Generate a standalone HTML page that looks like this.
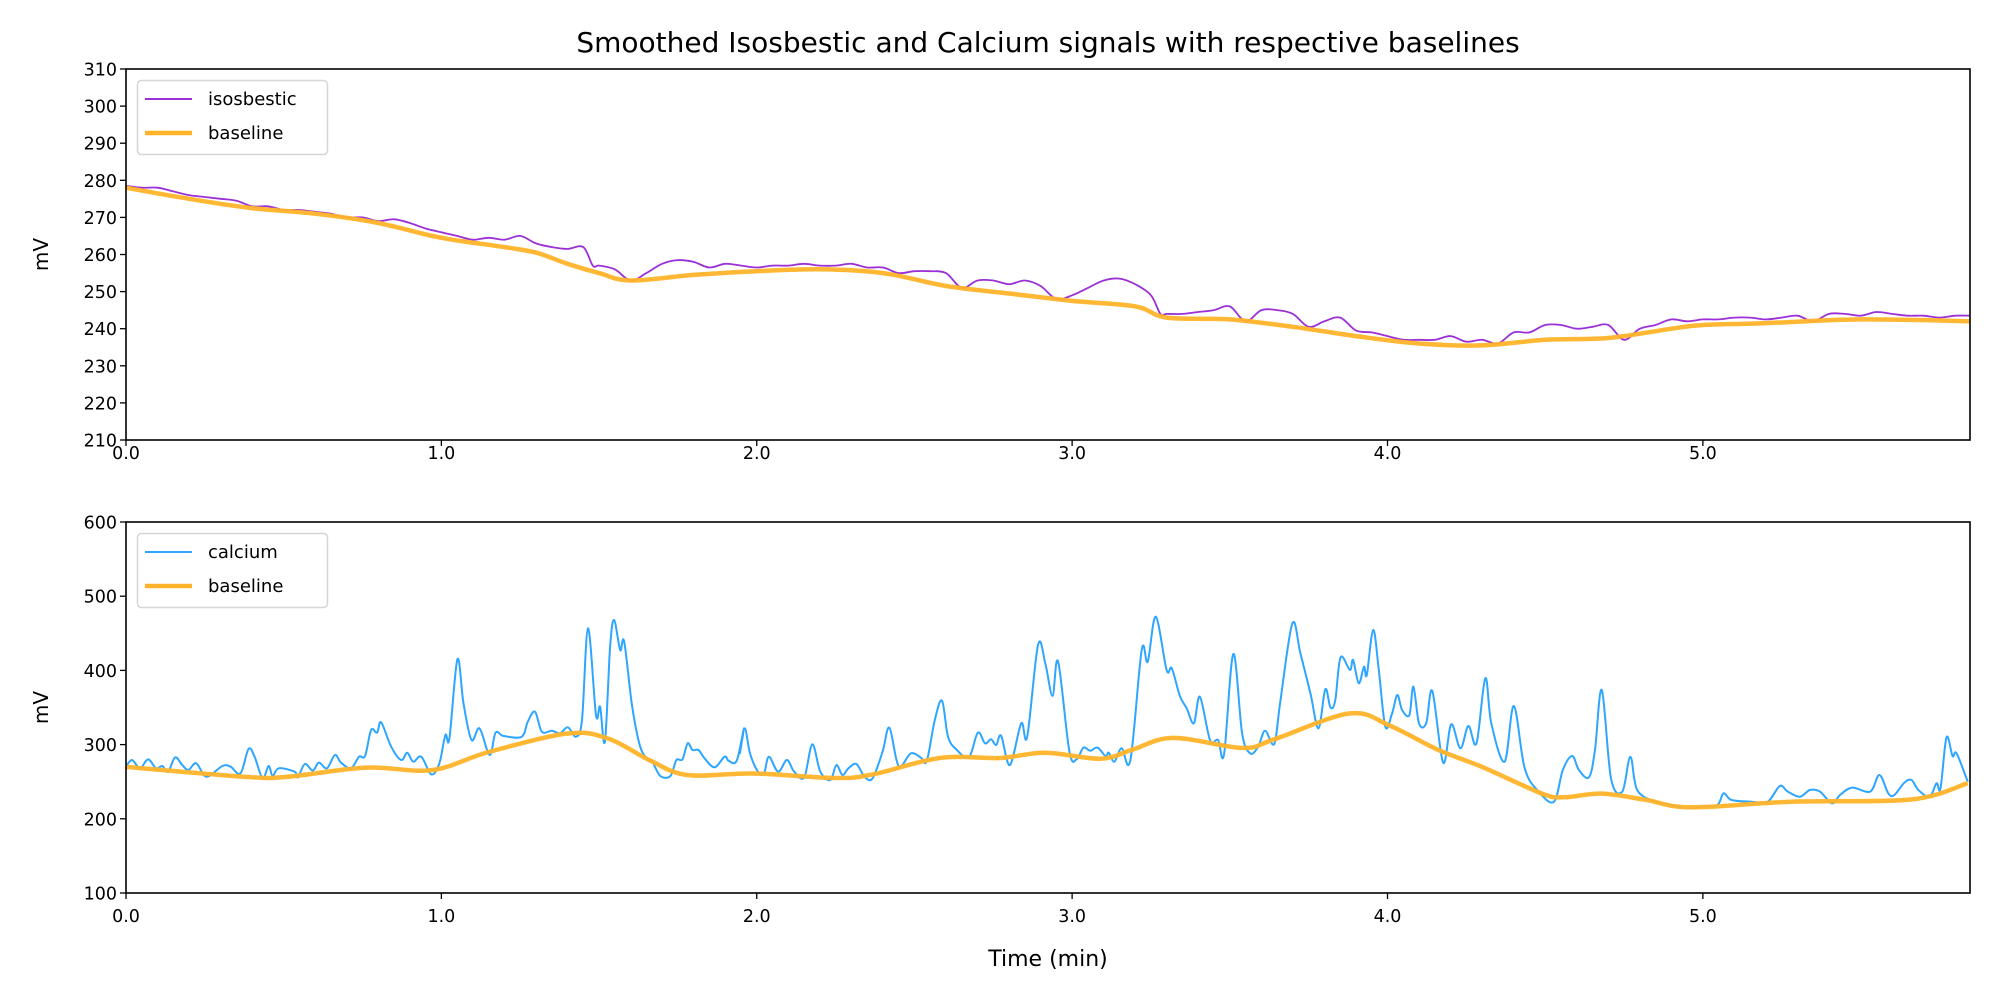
<!DOCTYPE html>
<html><head><meta charset="utf-8"><style>
html,body{margin:0;padding:0;background:#fff;}
svg{display:block;font-family:"DejaVu Sans","Liberation Sans",sans-serif;}
</style></head><body>
<svg id="fig" width="2000" height="1000" viewBox="0 0 2000 1000" xmlns="http://www.w3.org/2000/svg">
<rect width="2000" height="1000" fill="#fff"/>
<text x="1048" y="52" font-size="28" text-anchor="middle">Smoothed Isosbestic and Calcium signals with respective baselines</text>
<g id="top"></g><g id="bot"></g>
<text x="1048" y="966" font-size="22" text-anchor="middle">Time (min)</text>
</svg>
<script>
const tickX = [0,1,2,3,4,5];
const tickXLabels = ["0.0","1.0","2.0","3.0","4.0","5.0"];
const topTicks = [210,220,230,240,250,260,270,280,290,300,310];
const botTicks = [100,200,300,400,500,600];
const isoT = [0,0.05,0.1,0.15,0.2,0.25,0.3,0.35,0.4,0.45,0.5,0.55,0.6,0.65,0.7,0.75,0.8,0.85,0.9,0.95,1.0,1.05,1.1,1.15,1.2,1.25,1.3,1.35,1.4,1.45,1.48,1.5,1.55,1.6,1.65,1.7,1.75,1.8,1.85,1.9,1.95,2.0,2.05,2.1,2.15,2.2,2.25,2.3,2.35,2.4,2.45,2.5,2.55,2.6,2.65,2.7,2.75,2.8,2.85,2.9,2.95,3.0,3.05,3.1,3.15,3.2,3.25,3.28,3.3,3.35,3.4,3.45,3.5,3.55,3.6,3.65,3.7,3.75,3.8,3.85,3.9,3.95,4.0,4.05,4.1,4.15,4.2,4.25,4.3,4.35,4.4,4.45,4.5,4.55,4.6,4.65,4.7,4.75,4.8,4.85,4.9,4.95,5.0,5.05,5.1,5.15,5.2,5.25,5.3,5.35,5.4,5.45,5.5,5.55,5.6,5.65,5.7,5.75,5.8,5.85];
const isoV = [278.5,278,278,277,276,275.5,275,274.5,273,273,272,272,271.5,271,270,270,269,269.5,268.5,267,266,265,264,264.5,264,265,263,262,261.5,262,257,257,256,253,255,257.5,258.5,258,256.5,257.5,257,256.5,257,257,257.5,257,257,257.5,256.5,256.5,255,255.5,255.5,255,251,253,253,252,253,251.5,248,249,251,253,253.5,252,249,244,244,244,244.5,245,246,242,245,245,244,240.5,242,243,239.5,239,238,237,237,237,238,236.5,237,236,239,239,241,241,240,240.5,241,237,240,241,242.5,242,242.5,242.5,243,243,242.5,243,243.5,242,244,244,243.5,244.5,244,243.5,243.5,243,243.5,243.5];
const isoBaseT = [0,0.2,0.4,0.6,0.8,1.0,1.2,1.3,1.4,1.5,1.6,1.8,2.0,2.2,2.4,2.6,2.8,3.0,3.2,3.3,3.5,3.7,3.9,4.1,4.3,4.5,4.7,4.9,5.0,5.2,5.5,5.85];
const isoBaseV = [278,275,272.5,271,268.5,264.5,262,260.5,257.5,255,253,254.5,255.5,256,255,251.5,249.5,247.5,246,243,242.5,240.5,238,236,235.5,237,237.5,240,241,241.5,242.5,242];
const caT = [];
const caV = [];
const seg1 = [[0,620],[15,600],[35,625],[55,598],[75,625],[90,618],[105,635],[122,592],[140,615],[155,630],[175,610],[200,650],[240,618],[260,620],[285,640],[305,567],[320,590],[340,655],[355,618],[365,648],[380,625],[420,635],[428,652],[445,612],[465,632],[480,608],[500,625],[520,585],[535,608],[560,625],[580,590],[595,588],[610,510],[625,518],[635,487],[660,560],[685,600],[700,578],[715,605],[735,590],[760,643],[780,610],[795,525],[805,535],[825,298],[840,430],[860,540],[880,505],[905,585],[920,518],[940,528],[985,530],[1000,485],[1018,455],[1035,515],[1060,512],[1080,520],[1100,502],[1120,530],[1135,480],[1150,205],[1170,465],[1180,440],[1192,545],[1205,260],[1215,180],[1230,270],[1240,245],[1260,440],[1280,560],[1300,600],[1310,605],[1330,648],[1355,648],[1370,600],[1385,598],[1398,550],[1410,570],[1425,570],[1440,595],[1465,622],[1490,590],[1500,602],[1520,602],[1538,505]];
const seg2 = [[0,580],[12,505],[25,580],[45,635],[60,640],[72,590],[95,635],[117,600],[135,635],[160,652],[180,553],[200,635],[225,660],[240,615],[255,645],[270,625],[290,612],[310,650],[330,655],[355,575],[372,503],[395,618],[425,580],[450,592],[465,603],[485,480],[503,422],[518,530],[540,570],[570,592],[592,518],[610,550],[625,538],[638,555],[650,527],[672,615],[700,490],[715,530],[742,255],[760,310],[778,408],[792,305],[820,575],[838,598],[855,563],[872,572],[890,563],[910,588],[918,578],[932,605],[950,565],[972,600],[1000,270],[1015,305],[1035,170],[1062,330],[1075,325],[1095,408],[1112,445],[1130,490],[1145,410],[1170,540],[1190,540],[1205,582],[1228,282],[1250,520],[1270,580],[1290,560],[1307,512],[1330,552],[1345,425],[1375,190],[1395,280],[1420,400],[1440,505],[1457,388],[1470,443],[1482,420],[1495,292]];
const seg3 = [[0,330],[8,300],[22,370],[35,320],[42,345],[58,210],[72,330],[88,500],[105,460],[118,405],[130,450],[148,465],[158,380],[172,490],[190,490],[205,393],[232,608],[252,493],[275,565],[295,498],[315,550],[337,355],[352,490],[385,605],[408,438],[435,625],[470,695],[508,725],[530,630],[553,588],[570,630],[595,652],[610,570],[627,390],[650,655],[678,695],[698,590],[715,690],[760,725],[800,735],[840,745],[880,740],[915,735],[930,700],[950,720],[1000,725],[1040,725],[1070,678],[1090,695],[1120,710],[1145,690],[1170,695],[1200,730],[1220,705],[1250,683],[1295,695],[1318,645],[1340,700],[1355,705],[1380,668],[1398,660],[1415,690],[1443,710],[1460,670],[1470,685],[1485,532],[1500,588],[1510,580],[1538,665]];
const segT0 = [0, 1.9467, 3.8808];
[seg1,seg2,seg3].forEach((s,i)=>s.forEach(p=>{caT.push(segT0[i]+p[0]/785);caV.push(+(100+(333-p[1]/3)*1.3477).toFixed(1));}));
const caBaseT = [0,0.38,0.51,0.76,0.97,1.15,1.40,1.53,1.66,1.78,1.99,2.25,2.37,2.58,2.77,2.915,3.09,3.19,3.32,3.54,3.64,3.88,4.01,4.16,4.30,4.49,4.56,4.68,4.82,4.96,5.28,5.66,5.84];
const caBaseV = [270,256.5,256.5,269,265.6,290,315,308,279,259,261,255,260,282,282,289,281,293,309,295.5,307,342,325,293,270,234,229,234,225.5,215.5,223,226,248];

const NS="http://www.w3.org/2000/svg";
const X0=126,X1=1970,XMAX=5.847;
function xs(t){return X0+(X1-X0)*t/XMAX;}
function mk(parent,tag,attrs){const e=document.createElementNS(NS,tag);for(const k in attrs)e.setAttribute(k,attrs[k]);parent.appendChild(e);return e;}
function smoothPath(pts){let d="M"+pts[0][0].toFixed(1)+","+pts[0][1].toFixed(1);
 for(let i=0;i<pts.length-1;i++){const p0=pts[Math.max(0,i-1)],p1=pts[i],p2=pts[i+1],p3=pts[Math.min(pts.length-1,i+2)];
 const c1x=p1[0]+(p2[0]-p0[0])/6,c1y=p1[1]+(p2[1]-p0[1])/6,c2x=p2[0]-(p3[0]-p1[0])/6,c2y=p2[1]-(p3[1]-p1[1])/6;
 d+=" C"+c1x.toFixed(1)+","+c1y.toFixed(1)+" "+c2x.toFixed(1)+","+c2y.toFixed(1)+" "+p2[0].toFixed(1)+","+p2[1].toFixed(1);}return d;}
function panel(g,Y0,Y1,vmin,vmax,ticks,sigT,sigV,baseT,baseV,color,label,name,sw,xlabY){
 const ys=v=>Y1-(Y1-Y0)*(v-vmin)/(vmax-vmin);
 const clipId=name+"-clip";
 const cp=mk(mk(g,"defs",{}),"clipPath",{id:clipId});mk(cp,"rect",{x:X0,y:Y0,width:X1-X0,height:Y1-Y0});
 const plot=mk(g,"g",{"clip-path":"url(#"+clipId+")"});
 const sp=mk(plot,"path",{d:smoothPath(sigT.map((t,i)=>[xs(t),ys(sigV[i])])),fill:"none",stroke:color,"stroke-width":sw,"stroke-linejoin":"round"});
 
 
 const bp=mk(plot,"path",{d:smoothPath(baseT.map((t,i)=>[xs(t),ys(baseV[i])])),fill:"none",stroke:"#ffb329","stroke-opacity":0.95,"stroke-width":4.5,"stroke-linejoin":"round"});
 
 
 const fr=mk(g,"rect",{x:X0,y:Y0,width:X1-X0,height:Y1-Y0,fill:"none",stroke:"#000","stroke-width":1.6});
 
 
 ticks.forEach(v=>{const y=ys(v);mk(g,"line",{x1:X0-6,x2:X0,y1:y,y2:y,stroke:"#000","stroke-width":1.3});
  const t=mk(g,"text",{x:X0-9,y:y+6.5,"font-size":17.5,"text-anchor":"end"});t.textContent=v;
  
  });
 tickX.forEach((v,i)=>{const x=xs(v);mk(g,"line",{x1:x,x2:x,y1:Y1,y2:Y1+6,stroke:"#000","stroke-width":1.3});
  const t=mk(g,"text",{x:x,y:xlabY,"font-size":17.5,"text-anchor":"middle"});t.textContent=tickXLabels[i];
  
  });
 const yl=mk(g,"text",{x:0,y:0,"font-size":20,"text-anchor":"middle",transform:"translate(48,"+((Y0+Y1)/2)+") rotate(-90)"});yl.textContent="mV";
 
 
 const lg=mk(g,"g",{});
 
 
 mk(lg,"rect",{x:137.5,y:Y0+11.5,width:190,height:74,rx:4,fill:"#fff","fill-opacity":0.8,stroke:"#d6d6d6","stroke-width":1.5});
 mk(lg,"line",{x1:145,x2:192,y1:Y0+30,y2:Y0+30,stroke:color,"stroke-width":2});
 const l1=mk(lg,"text",{x:208,y:Y0+36,"font-size":18});l1.textContent=label;
 
 
 mk(lg,"line",{x1:145,x2:192,y1:Y0+64,y2:Y0+64,stroke:"#ffb329","stroke-width":4.5});
 const l2=mk(lg,"text",{x:208,y:Y0+70,"font-size":18});l2.textContent="baseline";
 
 
}
const gt=document.getElementById("top");


panel(gt,69,440,210,310,topTicks,isoT,isoV,isoBaseT,isoBaseV,"#9b30d6","isosbestic","isosbestic",1.8,459);
const gb=document.getElementById("bot");


panel(gb,522,893,100,600,botTicks,caT,caV,caBaseT,caBaseV,"#2ea6ff","calcium","calcium",2,922);
</script>
</body></html>
